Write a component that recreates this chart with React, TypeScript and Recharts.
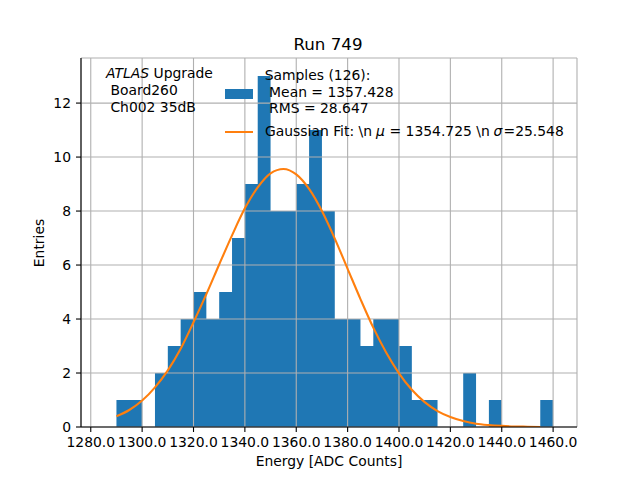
import { ComposedChart, Area, Line, XAxis, YAxis, CartesianGrid } from 'recharts';

// histogram: 34 bins of width 5 starting at 1290
const binStart = 1290;
const binWidth = 5;
const counts = [1, 1, 0, 2, 3, 4, 5, 4, 5, 7, 9, 13, 8, 8, 9, 11, 8, 4, 4, 3, 4, 4, 3, 1, 1, 0, 0, 2, 0, 1, 0, 0, 0, 1];

// gaussian fit curve
const fitX = [
  1290, 1295, 1300, 1305, 1310, 1315, 1320, 1325, 1330, 1335, 1340, 1345, 1350, 1355, 1360, 1365, 1370,
  1375, 1380, 1385, 1390, 1395, 1400, 1405, 1410, 1415, 1420, 1425, 1430, 1435, 1440, 1445, 1450, 1455,
];
const fitY = [
  0.4, 0.63, 0.98, 1.47, 2.1, 2.9, 3.88, 4.92, 6.02, 7.1, 8.1, 8.88, 9.4, 9.56, 9.36, 8.82, 8.0,
  6.98, 5.86, 4.74, 3.68, 2.76, 1.99, 1.38, 0.92, 0.59, 0.37, 0.22, 0.12, 0.07, 0.04, 0.02, 0.01, 0.0,
];

const xTicks = [1280, 1300, 1320, 1340, 1360, 1380, 1400, 1420, 1440, 1460];
const yTicks = [0, 2, 4, 6, 8, 10, 12];

const xDomain: [number, number] = [1276.2, 1469.3];
const yDomain: [number, number] = [0, 13.67];

// step area needs a closing point at the last edge
const histData = [...counts, counts[counts.length - 1]].map((c, i) => ({
  x: binStart + i * binWidth,
  count: c,
}));
const fitData = fitX.map((x, i) => ({ x, fit: fitY[i] }));

const FONT = '"DejaVu Sans", sans-serif';
const tickStyle = { fill: '#000', fontSize: 13.9, fontFamily: FONT };

function Txt({ x, y, children, size = 13.9, center = false }: any) {
  return (
    <div
      style={{
        position: 'absolute',
        left: x,
        top: y,
        fontSize: size,
        lineHeight: 1,
        whiteSpace: 'pre',
        color: '#000',
        transform: `translate(${center ? '-50%' : '0'}, -50%)`,
      }}
    >
      {children}
    </div>
  );
}

export default function App() {
  return (
    <div
      style={{
        position: 'absolute',
        left: 0,
        top: 0,
        width: 640,
        height: 480,
        background: '#fff',
        fontFamily: FONT,
      }}
    >
      <ComposedChart width={640} height={480} margin={{ top: 58, right: 63, bottom: 0, left: 0 }}>
        <XAxis
          dataKey="x"
          type="number"
          domain={xDomain}
          allowDataOverflow
          ticks={xTicks}
          interval={0}
          tickFormatter={(v: number) => v.toFixed(1)}
          height={53}
          tickSize={5}
          tickMargin={5}
          tick={tickStyle}
          stroke="#000"
          strokeWidth={1.1}
        />
        <XAxis
          xAxisId="top"
          orientation="top"
          type="number"
          domain={xDomain}
          allowDataOverflow
          height={0}
          tick={false}
          tickLine={false}
          stroke="#000"
          strokeWidth={1.1}
        />
        <YAxis
          type="number"
          domain={yDomain}
          allowDataOverflow
          ticks={yTicks}
          interval={0}
          width={81}
          tickSize={5}
          tickMargin={5}
          tick={tickStyle}
          stroke="#000"
          strokeWidth={1.1}
        />
        <YAxis
          yAxisId="right"
          orientation="right"
          type="number"
          domain={yDomain}
          width={0}
          tick={false}
          tickLine={false}
          stroke="#000"
          strokeWidth={1.1}
        />
        <Area
          data={histData}
          dataKey="count"
          type="stepAfter"
          fill="#1f77b4"
          fillOpacity={1}
          stroke="none"
          isAnimationActive={false}
        />
        <CartesianGrid stroke="#b0b0b0" strokeWidth={1.1} zIndex={150} />
        <Line
          data={fitData}
          dataKey="fit"
          type="monotone"
          stroke="#ff7f0e"
          strokeWidth={2.1}
          dot={false}
          activeDot={false}
          isAnimationActive={false}
        />
      </ComposedChart>

      <Txt x={328} y={44} size={16.7} center>
        Run 749
      </Txt>
      <Txt x={329} y={462} center>
        Energy [ADC Counts]
      </Txt>
      <div
        style={{
          position: 'absolute',
          left: 40,
          top: 243,
          fontSize: 13.9,
          lineHeight: 1,
          whiteSpace: 'pre',
          transform: 'translate(-50%, -50%) rotate(-90deg)',
        }}
      >
        Entries
      </div>

      <Txt x={106} y={74}>
        <i>ATLAS</i> Upgrade
      </Txt>
      <Txt x={106} y={91}>
        {' Board260'}
      </Txt>
      <Txt x={106} y={108}>
        {' Ch002 35dB'}
      </Txt>

      <div style={{ position: 'absolute', left: 225, top: 89, width: 28, height: 10, background: '#1f77b4' }} />
      <Txt x={264.7} y={76}>
        Samples (126):
      </Txt>
      <Txt x={264.7} y={92.5}>
        {' Mean = 1357.428'}
      </Txt>
      <Txt x={264.7} y={109.3}>
        {' RMS = 28.647'}
      </Txt>
      <div style={{ position: 'absolute', left: 225, top: 130.7, width: 28, height: 2.1, background: '#ff7f0e' }} />
      {/* mathtext spacing: place each piece where it sits in the original */}
      <Txt x={265} y={131.7}>
        {'Gaussian Fit: \\n'}
      </Txt>
      <Txt x={376} y={131.7}>
        <i>μ</i>
      </Txt>
      <Txt x={389.5} y={131.7}>
        {'= 1354.725 \\n'}
      </Txt>
      <Txt x={493.5} y={131.7}>
        <i>σ</i>
      </Txt>
      <Txt x={503.5} y={131.7}>
        {'=25.548'}
      </Txt>
    </div>
  );
}
